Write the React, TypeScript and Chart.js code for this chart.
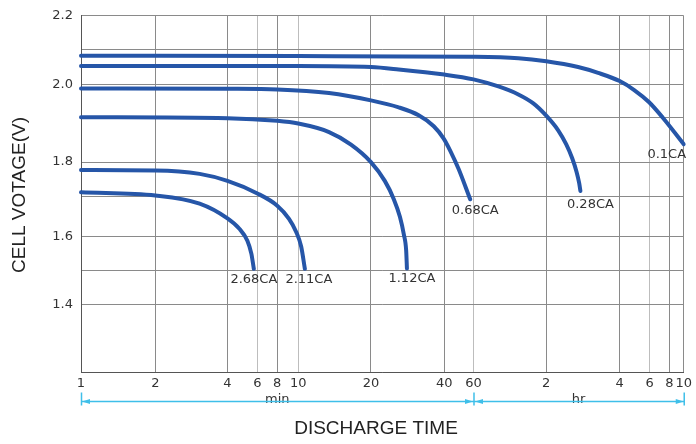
import React, { useEffect, useRef } from 'react';
import { Chart, Scale, registerables } from 'chart.js';

// ---------------- data ----------------
const seriesLabels = ['2.68CA', '2.11CA', '1.12CA', '0.68CA', '0.28CA', '0.1CA'];

// discharge time in minutes, cell voltage in volts
const time268 = [1, 2, 3.06, 4, 4.7, 5.24, 5.53, 5.72];
const volt268 = [1.713, 1.704, 1.683, 1.646, 1.62, 1.588, 1.55, 1.505];

const time211 = [1, 2, 3.06, 4, 6, 8, 9.07, 9.78, 10.29, 10.66];
const volt211 = [1.777, 1.776, 1.766, 1.746, 1.71, 1.678, 1.645, 1.6125, 1.571, 1.505];

const time112 = [1, 4, 8, 10, 13.42, 16.54, 20, 22.8, 24.8, 26.3, 27.3, 27.9, 28.1];
const volt112 = [1.9, 1.898, 1.892, 1.886, 1.867, 1.839, 1.8, 1.746, 1.695, 1.65, 1.605, 1.559, 1.506];

const time068 = [1, 4, 8, 13.42, 20, 26.0, 31.4, 36.2, 39.7, 43.6, 48.8, 57.3];
const volt068 = [1.987, 1.986, 1.984, 1.973, 1.951, 1.93, 1.906, 1.88, 1.853, 1.824, 1.78, 1.694];

const time028 = [1, 10, 20, 26.0, 40, 60, 76.1, 92, 106.1, 120, 134.3, 144.8, 153.2, 159.9, 163.7, 165.7];
const volt028 = [2.053, 2.053, 2.05, 2.043, 2.028, 2.014, 1.993, 1.969, 1.942, 1.905, 1.871, 1.84, 1.809, 1.771, 1.74, 1.717];

const time01 = [1, 10, 60, 92, 120, 162.1, 195.8, 240, 291, 356.7, 436, 600];
const volt01 = [2.083, 2.082, 2.08, 2.076, 2.067, 2.05, 2.033, 2.009, 1.983, 1.946, 1.899, 1.84];

const seriesTimes = [time268, time211, time112, time068, time028, time01];
const seriesVolts = [volt268, volt211, volt112, volt068, volt028, volt01];

// tick values (x in minutes)
const xTickValues = [1, 2, 4, 6, 8, 10, 20, 40, 60, 120, 240, 360, 480, 600];
const xLightTicks = [6, 10, 60, 360];
const yTickValues = [1.2, 1.4, 1.5, 1.6, 1.7, 1.8, 1.9, 2.0, 2.1, 2.2];
const yLabeledTicks = [1.4, 1.6, 1.8, 2.0, 2.2];

// --------------- axis geometry (the printed chart's grid is not uniform) ---------------
const xBreaks: [number, number][] = [
  [1, 0], [2, 0.1235], [4, 0.243], [6, 0.2926], [8, 0.3256], [10, 0.3603],
  [20, 0.481], [40, 0.6028], [60, 0.6512], [120, 0.7719], [240, 0.8937],
  [360, 0.9433], [480, 0.9764], [600, 1],
];
const yBreaks: [number, number][] = [
  [1.2, 0], [1.4, 0.19], [1.5, 0.2849], [1.6, 0.3799], [1.7, 0.4916], [1.8, 0.5894],
  [1.9, 0.7151], [2.0, 0.8081], [2.1, 0.9042], [2.2, 1],
];

const labelOffsets: [number, number][] = [
  [0, 14], [4, 14], [5, 14], [5, 15], [10, 17], [-17, 13.5],
];

const BLUE = '#2656a8';
const CYAN = '#3fbfe9';

const breakTable: Record<string, { breaks: [number, number][]; log: boolean }> = {
  x: { breaks: xBreaks, log: true },
  y: { breaks: yBreaks, log: false },
};

class PiecewiseScale extends Scale {
  static id = 'piecewise';
  static defaults = {};
  cfg() {
    return breakTable[(this as any).id];
  }
  determineDataLimits() {
    const b = this.cfg().breaks;
    (this as any).min = b[0][0];
    (this as any).max = b[b.length - 1][0];
  }
  buildTicks() {
    const vals = (this as any).id === 'x' ? xTickValues : yTickValues;
    return vals.map((v) => ({ value: v }));
  }
  getLabelForValue(v: number) {
    return String(v);
  }
  toDecimal(value: number) {
    const { breaks: b, log } = this.cfg();
    const f = (v: number) => (log ? Math.log(v) : v);
    if (value <= b[0][0]) return b[0][1];
    for (let i = 1; i < b.length; i++) {
      if (value <= b[i][0]) {
        const t = (f(value) - f(b[i - 1][0])) / (f(b[i][0]) - f(b[i - 1][0]));
        return b[i - 1][1] + t * (b[i][1] - b[i - 1][1]);
      }
    }
    return b[b.length - 1][1];
  }
  getPixelForValue(value: number) {
    return (this as any).getPixelForDecimal(this.toDecimal(value));
  }
  getPixelForTick(index: number) {
    return this.getPixelForValue((this as any).ticks[index].value);
  }
  getValueForPixel(pixel: number) {
    const { breaks: b, log } = this.cfg();
    const d = (this as any).getDecimalForPixel(pixel);
    for (let i = 1; i < b.length; i++) {
      if (d <= b[i][1]) {
        const t = (d - b[i - 1][1]) / (b[i][1] - b[i - 1][1]);
        if (log) return Math.exp(Math.log(b[i - 1][0]) + t * (Math.log(b[i][0]) - Math.log(b[i - 1][0])));
        return b[i - 1][0] + t * (b[i][0] - b[i - 1][0]);
      }
    }
    return b[b.length - 1][0];
  }
}

Chart.register(...registerables, PiecewiseScale as any);

const annotations = {
  id: 'annotations',
  afterDraw(chart: any) {
    const ctx = chart.ctx;
    const xs = chart.scales.x;
    const area = chart.chartArea;
    ctx.save();

    // curve labels
    ctx.font = '13px "DejaVu Sans"';
    ctx.fillStyle = '#333';
    ctx.textAlign = 'center';
    ctx.textBaseline = 'alphabetic';
    chart.data.datasets.forEach((ds: any, i: number) => {
      const meta = chart.getDatasetMeta(i);
      const pt = meta.data[meta.data.length - 1];
      const [dx, dy] = labelOffsets[i];
      ctx.fillText(ds.label, pt.x + dx, pt.y + dy);
    });

    // min / hr dimension lines
    const x0 = xs.getPixelForValue(1);
    const x1 = xs.getPixelForValue(60);
    const x2 = xs.getPixelForValue(600);
    const yl = area.bottom + 29.5;
    ctx.fillStyle = '#333';
    ctx.font = '13px "DejaVu Sans"';
    ctx.fillText('min', (x0 + x1) / 2, yl + 1.5);
    ctx.fillText('hr', (x1 + x2) / 2, yl + 1.5);

    ctx.strokeStyle = CYAN;
    ctx.lineWidth = 1.5;
    ctx.beginPath();
    ctx.moveTo(x0, yl);
    ctx.lineTo(x2, yl);
    [x0, x1, x2].forEach((x) => {
      ctx.moveTo(x + 0.5, yl - 9);
      ctx.lineTo(x + 0.5, yl + 4);
    });
    ctx.stroke();
    const arrow = (x: number, dir: number) => {
      ctx.beginPath();
      ctx.moveTo(x, yl);
      ctx.lineTo(x + dir * 8, yl - 2.5);
      ctx.lineTo(x + dir * 8, yl + 2.5);
      ctx.closePath();
      ctx.fillStyle = CYAN;
      ctx.fill();
    };
    arrow(x0 + 1, 1);
    arrow(x1 - 0.5, -1);
    arrow(x1 + 1.5, 1);
    arrow(x2, -1);

    // axis titles
    ctx.fillStyle = '#222';
    ctx.font = '19px "Liberation Sans"';
    ctx.textAlign = 'center';
    ctx.textBaseline = 'middle';
    ctx.fillText('DISCHARGE TIME', 376, 429);
    ctx.translate(20, 195);
    ctx.rotate(-Math.PI / 2);
    ctx.fillText('CELL VOTAGE(V)', 0, 0);
    ctx.restore();
  },
};

export default function App() {
  const ref = useRef<HTMLCanvasElement | null>(null);
  useEffect(() => {
    if (!ref.current) return;
    const datasets = seriesLabels.map((label, i) => ({
      label,
      data: seriesTimes[i].map((t, j) => ({ x: t, y: seriesVolts[i][j] })),
      borderColor: BLUE,
      borderWidth: 4,
      borderCapStyle: 'round' as const,
      borderJoinStyle: 'round' as const,
      pointRadius: 0,
      cubicInterpolationMode: 'monotone' as const,
      fill: false,
    }));
    const chart = new Chart(ref.current, {
      type: 'line',
      data: { datasets },
      options: {
        responsive: false,
        animation: false,
        devicePixelRatio: 1,
        layout: { padding: { left: 0, right: 10, top: 14, bottom: 0 } },
        plugins: { legend: { display: false }, tooltip: { enabled: false } },
        scales: {
          x: {
            type: 'piecewise' as any,
            position: 'bottom',
            afterFit: (s: any) => {
              s.height = 72;
            },
            grid: {
              drawTicks: false,
              color: (c: any) => (c.tick && xLightTicks.includes(c.tick.value) ? '#bdbdbd' : '#8a8a8a'),
              lineWidth: 1,
            },
            border: { display: true, color: '#555', width: 1 },
            ticks: {
              autoSkip: false,
              maxRotation: 0,
              minRotation: 0,
              padding: 4,
              color: '#333',
              font: { family: 'DejaVu Sans', size: 13 },
              callback: (v: any) => {
                const n = Number(v);
                return n > 60 ? String(n / 60) : String(n);
              },
            },
          } as any,
          y: {
            type: 'piecewise' as any,
            position: 'left',
            afterFit: (s: any) => {
              s.width = 81;
            },
            grid: { drawTicks: false, color: '#8a8a8a', lineWidth: 1 },
            border: { display: true, color: '#555', width: 1 },
            ticks: {
              autoSkip: false,
              padding: 8,
              color: '#333',
              font: { family: 'DejaVu Sans', size: 13 },
              callback: (v: any) => {
                const n = Number(v);
                return yLabeledTicks.some((t) => Math.abs(t - n) < 1e-6) ? n.toFixed(1) : '';
              },
            },
          } as any,
        },
      },
      plugins: [annotations],
    });
    return () => chart.destroy();
  }, []);
  return (
    <div style={{ position: 'absolute', left: 0, top: 0, width: 696, height: 444, background: '#fff' }}>
      <canvas ref={ref} width={696} height={444} style={{ display: 'block' }} />
    </div>
  );
}
